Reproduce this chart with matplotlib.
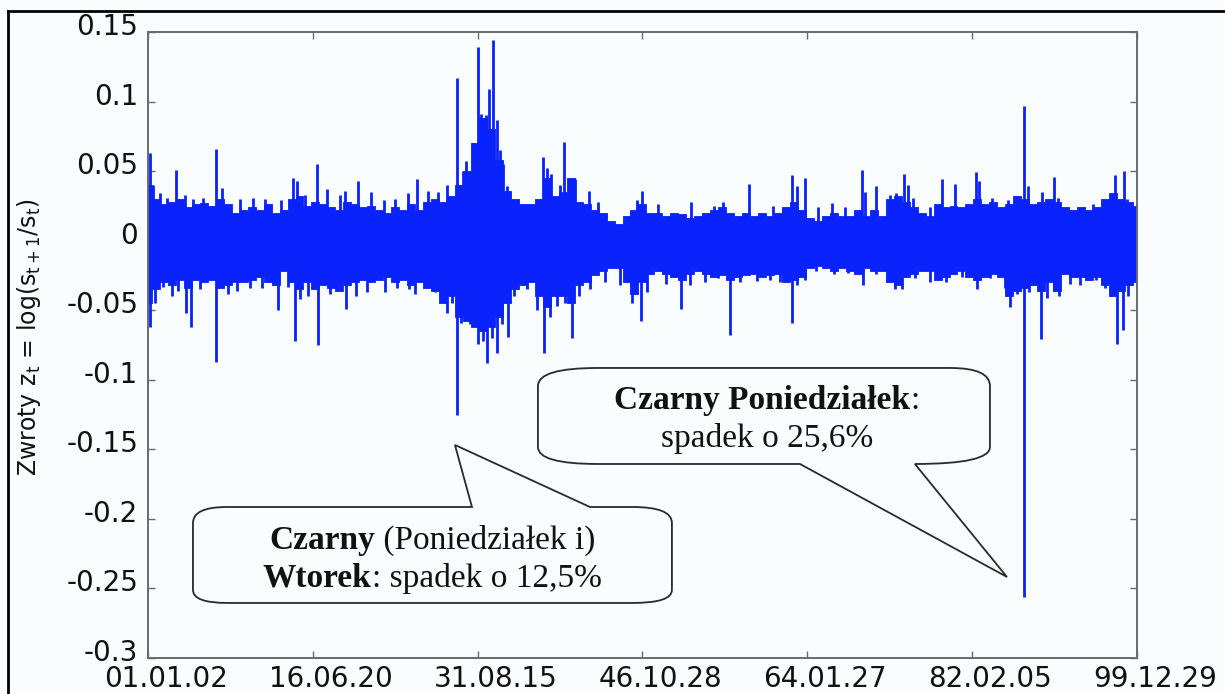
import numpy as np
import matplotlib
matplotlib.use('Agg')
import matplotlib.pyplot as plt
import matplotlib.transforms as mtransforms
from matplotlib.path import Path
from matplotlib.patches import PathPatch
from matplotlib.lines import Line2D

plt.rcParams['axes.unicode_minus'] = False

# Daily log returns of the index, x axis in trading days 1901-1999
n_days = 26940

date_labels = ['01.01.02', '16.06.20', '31.08.15', '46.10.28',
               '64.01.27', '82.02.05', '99.12.29']
y_ticks = [-0.3, -0.25, -0.2, -0.15, -0.1, -0.05, 0, 0.05, 0.1, 0.15]
y_tick_labels = ['-0.3', '-0.25', '-0.2', '-0.15', '-0.1', '-0.05',
                 '0', '0.05', '0.1', '0.15']

# dense body of the series: upper / lower reach, sampled evenly along the axis
band_top = [
    0.040, 0.030, 0.026, 0.028, 0.030, 0.024, 0.026, 0.027, 0.025, 0.030,
    0.026, 0.020, 0.022, 0.024, 0.022, 0.026, 0.020, 0.022, 0.030, 0.032,
    0.025, 0.028, 0.026, 0.024, 0.022, 0.028, 0.026, 0.024, 0.025, 0.022,
    0.020, 0.024, 0.022, 0.026, 0.022, 0.028, 0.030, 0.028, 0.032, 0.040,
    0.050, 0.070, 0.088, 0.080, 0.058, 0.036, 0.030, 0.026, 0.026, 0.030,
    0.045, 0.032, 0.035, 0.045, 0.028, 0.026, 0.022, 0.020, 0.014, 0.012,
    0.018, 0.022, 0.026, 0.020, 0.020, 0.018, 0.020, 0.019, 0.016, 0.018,
    0.020, 0.022, 0.024, 0.020, 0.018, 0.020, 0.018, 0.020, 0.018, 0.020,
    0.024, 0.028, 0.022, 0.016, 0.014, 0.018, 0.020, 0.018, 0.018, 0.022,
    0.018, 0.022, 0.018, 0.030, 0.032, 0.028, 0.024, 0.020, 0.018, 0.026,
    0.024, 0.025, 0.024, 0.026, 0.030, 0.026, 0.028, 0.024, 0.026, 0.032,
    0.030, 0.026, 0.028, 0.030, 0.028, 0.024, 0.022, 0.024, 0.022, 0.024,
    0.030, 0.034, 0.030, 0.028, 0.025,
]
band_bottom = [
    -0.045, -0.035, -0.030, -0.032, -0.028, -0.034, -0.028, -0.030, -0.028, -0.034,
    -0.032, -0.030, -0.030, -0.028, -0.026, -0.030, -0.032, -0.022, -0.030, -0.035,
    -0.030, -0.035, -0.032, -0.034, -0.036, -0.032, -0.030, -0.028, -0.030, -0.028,
    -0.026, -0.030, -0.028, -0.032, -0.030, -0.034, -0.036, -0.045, -0.040, -0.055,
    -0.058, -0.062, -0.065, -0.062, -0.055, -0.045, -0.035, -0.032, -0.030, -0.040,
    -0.048, -0.040, -0.040, -0.045, -0.032, -0.030, -0.025, -0.022, -0.020, -0.020,
    -0.030, -0.038, -0.030, -0.024, -0.022, -0.024, -0.026, -0.028, -0.024, -0.022,
    -0.024, -0.026, -0.025, -0.028, -0.026, -0.025, -0.024, -0.026, -0.025, -0.024,
    -0.030, -0.028, -0.026, -0.020, -0.018, -0.020, -0.022, -0.020, -0.022, -0.024,
    -0.020, -0.022, -0.022, -0.030, -0.032, -0.026, -0.024, -0.022, -0.022, -0.028,
    -0.026, -0.024, -0.022, -0.026, -0.028, -0.026, -0.024, -0.026, -0.040, -0.036,
    -0.034, -0.032, -0.036, -0.030, -0.036, -0.024, -0.026, -0.026, -0.028, -0.026,
    -0.032, -0.040, -0.036, -0.032, -0.030,
]

# isolated large daily gains
up_days = [
    54, 136, 327, 518, 763, 1008, 1226, 1498, 1852, 2016,
    2506, 2860, 3187, 3623, 3950, 4059, 4277, 4604, 4876, 5230,
    5366, 5720, 6074, 6428, 6728, 7082, 7327, 7627, 7899, 8145,
    8417, 8581, 8662, 8853, 8989, 9071, 9207, 9289, 9398, 9507,
    9588, 9670, 9779, 10760, 10869, 10978, 11223, 11332, 11468, 11632,
    12013, 12258, 13320, 13457, 13892, 14791, 15418, 15663, 16371, 17025,
    17543, 17679, 17897, 18251, 18632, 18986, 19449, 19531, 19831, 20212,
    20376, 20594, 20703, 20839, 21302, 21629, 21983, 22555, 22637, 22991,
    23426, 23699, 23862, 23971, 24352, 24679, 24788, 25115, 25469, 25742,
    26205, 26341, 26586, 26668,
]
up_values = [
    0.063, 0.040, 0.034, 0.031, 0.051, 0.033, 0.030, 0.031, 0.066, 0.038,
    0.030, 0.031, 0.030, 0.029, 0.045, 0.043, 0.033, 0.055, 0.037, 0.033,
    0.036, 0.043, 0.035, 0.029, 0.030, 0.034, 0.044, 0.036, 0.035, 0.040,
    0.117, 0.050, 0.057, 0.070, 0.139, 0.091, 0.090, 0.109, 0.144, 0.087,
    0.065, 0.055, 0.039, 0.060, 0.052, 0.048, 0.040, 0.071, 0.045, 0.044,
    0.036, 0.028, 0.029, 0.036, 0.026, 0.028, 0.025, 0.028, 0.041, 0.025,
    0.047, 0.039, 0.045, 0.024, 0.027, 0.024, 0.051, 0.035, 0.039, 0.033,
    0.034, 0.048, 0.040, 0.031, 0.024, 0.044, 0.041, 0.049, 0.043, 0.031,
    0.029, 0.031, 0.097, 0.039, 0.035, 0.046, 0.031, 0.022, 0.024, 0.026,
    0.031, 0.047, 0.050, 0.030,
]

# isolated large daily losses
down_days = [
    54, 191, 409, 654, 817, 1035, 1171, 1416, 1852, 2179,
    2424, 2778, 3105, 3541, 3814, 4004, 4140, 4358, 4631, 4958,
    5394, 5666, 5966, 6456, 6783, 7110, 7273, 7573, 7818, 8145,
    8281, 8526, 8771, 8989, 9125, 9234, 9371, 9507, 9643, 9807,
    9970, 10324, 10596, 10787, 10950, 11141, 11359, 11550, 11740, 12040,
    12449, 12857, 13184, 13429, 13593, 14110, 14519, 14764, 15173, 15527,
    15854, 16126, 16589, 16943, 17216, 17543, 17679, 17897, 18196, 18687,
    19068, 19477, 19831, 20348, 20539, 20893, 21302, 21738, 22173, 22582,
    22936, 23345, 23481, 23672, 23998, 24325, 24489, 24679, 24816, 25115,
    25387, 25823, 26069, 26232, 26396, 26559, 26695,
]
down_values = [
    -0.062, -0.045, -0.033, -0.040, -0.036, -0.052, -0.062, -0.035, -0.087, -0.038,
    -0.036, -0.034, -0.034, -0.050, -0.033, -0.072, -0.042, -0.040, -0.075, -0.038,
    -0.049, -0.040, -0.037, -0.037, -0.034, -0.035, -0.038, -0.033, -0.037, -0.052,
    -0.045, -0.059, -0.060, -0.074, -0.072, -0.088, -0.070, -0.081, -0.060, -0.069,
    -0.040, -0.035, -0.050, -0.081, -0.055, -0.047, -0.045, -0.070, -0.040, -0.035,
    -0.030, -0.032, -0.045, -0.058, -0.037, -0.031, -0.049, -0.032, -0.030, -0.027,
    -0.068, -0.030, -0.029, -0.028, -0.030, -0.059, -0.032, -0.028, -0.022, -0.024,
    -0.023, -0.032, -0.024, -0.035, -0.035, -0.027, -0.030, -0.030, -0.026, -0.035,
    -0.027, -0.034, -0.048, -0.038, -0.037, -0.071, -0.041, -0.036, -0.040, -0.031,
    -0.032, -0.028, -0.034, -0.040, -0.074, -0.064, -0.040,
]

# the two crashes (drop in percent): 1929 and Black Monday 1987
crash_days = [8417, 23862]
crash_drops = [12.5, 25.6]

blue = '#0a22fb'
bg = '#fafdfd'
frame_grey = '#6a6a6a'

fig = plt.figure(figsize=(12.25, 6.94), dpi=100, facecolor=bg)
ax = fig.add_axes([0.1208, 0.0519, 0.8073, 0.9020], facecolor=bg)

band_x = np.linspace(0, n_days, len(band_top))
ax.fill_between(band_x, band_bottom, band_top, step='mid', color=blue, lw=0.6,
                edgecolor=blue, zorder=2)
ax.vlines(up_days, 0, up_values, color=blue, lw=2.0, zorder=3)
ax.vlines(down_days, 0, down_values, color=blue, lw=2.0, zorder=3)
ax.vlines(crash_days, 0, [-d / 100 for d in crash_drops], color=blue, lw=2.0,
          zorder=3)

ax.set_xlim(0, n_days)
ax.set_ylim(-0.3, 0.15)
ax.set_xticks(np.linspace(0, n_days, len(date_labels)))
ax.set_xticklabels(date_labels)
ax.set_yticks(y_ticks)
ax.set_yticklabels(y_tick_labels)
ax.tick_params(direction='in', top=True, right=True, length=5, width=1,
               color=frame_grey, labelcolor='#111111', labelsize=20)
ax.tick_params(axis='x', pad=5)
ax.tick_params(axis='y', pad=7)
for side in ax.spines.values():
    side.set_color(frame_grey)
    side.set_linewidth(1.4)

# shift tick labels a little, as in the printed figure
dx = mtransforms.ScaledTranslation(0.18, 0, fig.dpi_scale_trans)
for lab in ax.get_xticklabels():
    lab.set_transform(lab.get_transform() + dx)
dy = mtransforms.ScaledTranslation(0, 0.08, fig.dpi_scale_trans)
for lab in ax.get_yticklabels():
    lab.set_transform(lab.get_transform() + dy)

fig.text(29 / 1225, 1 - 337 / 694,
         r'Zwroty z$_\mathregular{t}$ = log(s$_\mathregular{t+1}$/s$_\mathregular{t}$)',
         rotation=90, ha='center', va='center', fontsize=17, color='#111111')

# callout bubbles, in axes fraction
L, C, M, Z = Path.MOVETO, Path.CURVE3, Path.LINETO, Path.CLOSEPOLY
bubble_1929 = [
    ((0.0455, 0.2157), L), ((0.0455, 0.2412), C), ((0.0800, 0.2412), C),
    ((0.3276, 0.2412), M), ((0.3104, 0.3403), M), ((0.4469, 0.2412), M),
    ((0.4900, 0.2412), M), ((0.5298, 0.2412), C), ((0.5298, 0.2157), C),
    ((0.5298, 0.1086), M), ((0.5298, 0.0879), C), ((0.4900, 0.0879), C),
    ((0.0800, 0.0879), M), ((0.0455, 0.0879), C), ((0.0455, 0.1086), C),
    ((0.0455, 0.2157), Z),
]
bubble_1987 = [
    ((0.3943, 0.4345), L), ((0.3943, 0.4633), C), ((0.4550, 0.4633), C),
    ((0.8109, 0.4633), M), ((0.8514, 0.4633), C), ((0.8514, 0.4345), C),
    ((0.8514, 0.3371), M), ((0.8514, 0.3099), C), ((0.7755, 0.3099), C),
    ((0.8686, 0.1294), M), ((0.6593, 0.3099), M),
    ((0.4550, 0.3099), M), ((0.3943, 0.3099), C), ((0.3943, 0.3371), C),
    ((0.3943, 0.4345), Z),
]
for shape in (bubble_1929, bubble_1987):
    verts = [p for p, _ in shape]
    codes = [c for _, c in shape]
    ax.add_patch(PathPatch(Path(verts, codes), transform=ax.transAxes,
                           facecolor=bg, edgecolor='#2a2a2a', lw=1.3, zorder=5))

renderer = fig.canvas.get_renderer()


def text_runs(x, y, runs, size=24):
    """Write one centred line made of (text, weight) pieces."""
    items = [ax.text(x, y, s, transform=ax.transAxes, fontsize=size,
                     fontweight=w, family='Liberation Serif', color='#111111',
                     ha='left', va='baseline', zorder=6) for s, w in runs]
    widths = [t.get_window_extent(renderer).width for t in items]
    start = -sum(widths) / 2
    for t, wd in zip(items, widths):
        t.set_transform(mtransforms.offset_copy(ax.transAxes, fig=fig,
                                                x=start, units='dots'))
        start += wd


def pct(v):
    return f'{v:.1f}%'.replace('.', ',')


text_runs(0.2872, 0.1741, [('Czarny', 'bold'), (' (Poniedziałek i)', 'normal')])
text_runs(0.2872, 0.1134, [('Wtorek', 'bold'),
                           (': spadek o ' + pct(crash_drops[0]), 'normal')])
text_runs(0.6259, 0.3978, [('Czarny Poniedziałek', 'bold'), (':', 'normal')])
text_runs(0.6259, 0.3371, [('spadek o ' + pct(crash_drops[1]), 'normal')])

# outer frame of the figure
fig.add_artist(Line2D([8 / 1225, 8 / 1225], [0, 1 - 11 / 694],
                      transform=fig.transFigure, color='black', lw=2))
fig.add_artist(Line2D([8 / 1225, 1], [1 - 11 / 694, 1 - 11 / 694],
                      transform=fig.transFigure, color='black', lw=2))

fig.savefig('out.png', dpi=100, facecolor=bg)
